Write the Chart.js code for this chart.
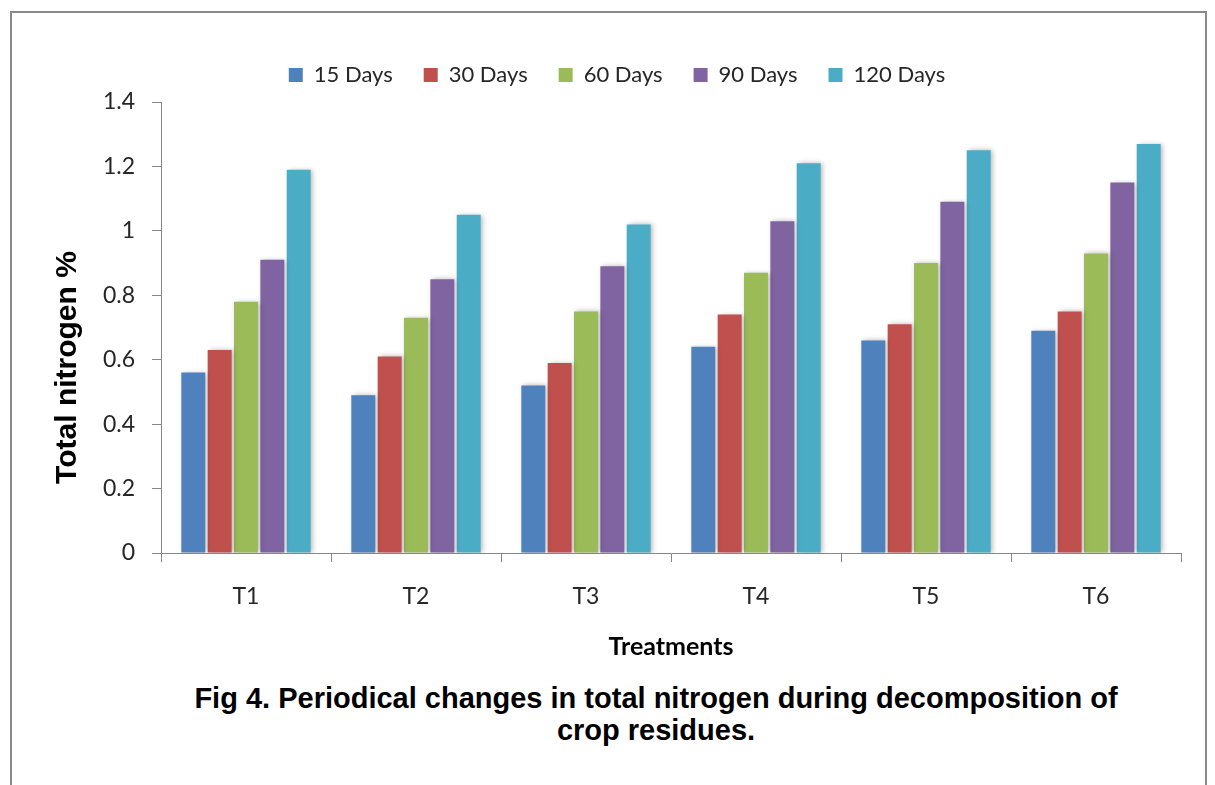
<!DOCTYPE html>
<html>
<head>
<meta charset="utf-8">
<title>Total nitrogen</title>
<script src="https://cdn.jsdelivr.net/npm/chart.js@4.4.1/dist/chart.umd.min.js"></script>
<style>
  html, body { margin: 0; padding: 0; background: #fff; }
  body { width: 1215px; height: 785px; position: relative; overflow: hidden; }
  .frame { position: absolute; left: 10px; top: 11px; width: 1197px; height: 800px; border: 2px solid #8a8a8a; box-sizing: border-box; }
  .plot { position: absolute; left: 0; top: 0; width: 1215px; height: 680px; }
  .caption { position: absolute; left: 0; top: 682px; width: 1312px; text-align: center;
             font-family: "Liberation Sans", Arial, sans-serif; font-weight: bold; font-size: 29px; line-height: 32px; color: #000; }
</style>
</head>
<body>
<div class="frame"></div>
<div class="plot"><canvas id="nitrogenChart"></canvas></div>
<div class="caption">Fig 4. Periodical changes in total nitrogen during decomposition of<br>crop residues.</div>
<script>
// total nitrogen (%) per treatment, one array per sampling day
const treatments = ['T1', 'T2', 'T3', 'T4', 'T5', 'T6'];
const days15  = [0.56, 0.49, 0.52, 0.64, 0.66, 0.69];
const days30  = [0.63, 0.61, 0.59, 0.74, 0.71, 0.75];
const days60  = [0.78, 0.73, 0.75, 0.87, 0.90, 0.93];
const days90  = [0.91, 0.85, 0.89, 1.03, 1.09, 1.15];
const days120 = [1.19, 1.05, 1.02, 1.21, 1.25, 1.27];
const seriesNames = ['15 Days', '30 Days', '60 Days', '90 Days', '120 Days'];
const seriesColors = ['#4F81BD', '#C0504D', '#9BBB59', '#8064A2', '#4BACC6'];
const yMin = 0, yMax = 1.4, yStep = 0.2;

const axisGrey = '#868686';
const labelFont = 'Lato, "Open Sans", sans-serif';

// soft grey glow behind each bar
const barShadow = {
    id: 'barShadow',
    beforeDatasetsDraw(chart) {
        const ctx = chart.ctx;
        ctx.save();
        ctx.shadowColor = 'rgba(0, 0, 0, 0.28)';
        ctx.shadowBlur = 5;
        ctx.shadowOffsetX = 2;
        ctx.shadowOffsetY = 0;
    },
    afterDatasetsDraw(chart) {
        chart.ctx.restore();
    }
};

// keep the legend band at a fixed height
const legendHeight = {
    id: 'legendHeight',
    beforeLayout(chart, args, opts) {
        const legend = chart.legend;
        if (!legend || legend._heightFixed) return;
        const fit = legend.fit;
        legend.fit = function () {
            fit.call(this);
            this.height = opts.height;
        };
        legend._heightFixed = true;
    }
};

// rotated y axis title, sitting a little below the middle of the axis
const yTitle = {
    id: 'yTitle',
    afterDraw(chart, args, opts) {
        const {ctx, scales: {y}} = chart;
        ctx.save();
        ctx.translate(opts.x, (y.top + y.bottom) / 2 + opts.shift);
        ctx.rotate(-Math.PI / 2);
        ctx.font = 'bold 30px "Liberation Sans", Arial, sans-serif';
        ctx.fillStyle = '#000';
        ctx.textAlign = 'center';
        ctx.textBaseline = 'middle';
        ctx.fillText(opts.text, 0, 0);
        ctx.restore();
    }
};

const seriesData = [days15, days30, days60, days90, days120];

const ctx = document.getElementById('nitrogenChart');
new Chart(ctx, {
    type: 'bar',
    data: {
        labels: treatments,
        datasets: seriesData.map((values, i) => ({
            label: seriesNames[i],
            data: values,
            backgroundColor: seriesColors[i],
            borderWidth: 0,
            barPercentage: 0.91,
            categoryPercentage: 0.775
        }))
    },
    plugins: [barShadow, legendHeight, yTitle],
    options: {
        responsive: true,
        maintainAspectRatio: false,
        animation: false,
        layout: {
            padding: { left: 53, right: 34, top: 33, bottom: 0 }
        },
        plugins: {
            tooltip: { enabled: false },
            legendHeight: { height: 69 },
            yTitle: { text: 'Total nitrogen %', x: 68, shift: 40 },
            legend: {
                position: 'top',
                labels: {
                    boxWidth: 14,
                    boxHeight: 14,
                    padding: 31,
                    color: '#262626',
                    font: { family: labelFont, size: 22 }
                }
            }
        },
        scales: {
            x: {
                grid: { drawOnChartArea: false, offset: true, tickLength: 9, color: axisGrey },
                border: { color: axisGrey },
                ticks: {
                    padding: 21,
                    color: '#262626',
                    font: { family: labelFont, size: 23 }
                },
                title: {
                    display: true,
                    text: 'Treatments',
                    color: '#000',
                    font: { family: labelFont, size: 25, weight: 'bold' },
                    padding: { top: 0, bottom: 18 }
                },
                afterFit(scale) { scale.height = 127; }
            },
            y: {
                min: yMin,
                max: yMax,
                grid: { drawOnChartArea: false, tickLength: 9, color: axisGrey },
                border: { color: axisGrey },
                ticks: {
                    stepSize: yStep,
                    padding: 17,
                    color: '#262626',
                    font: { family: labelFont, size: 23 },
                    callback: v => String(Number(v.toFixed(1)))
                },
                afterFit(scale) { scale.width = 108; }
            }
        }
    }
});
</script>
</body>
</html>
